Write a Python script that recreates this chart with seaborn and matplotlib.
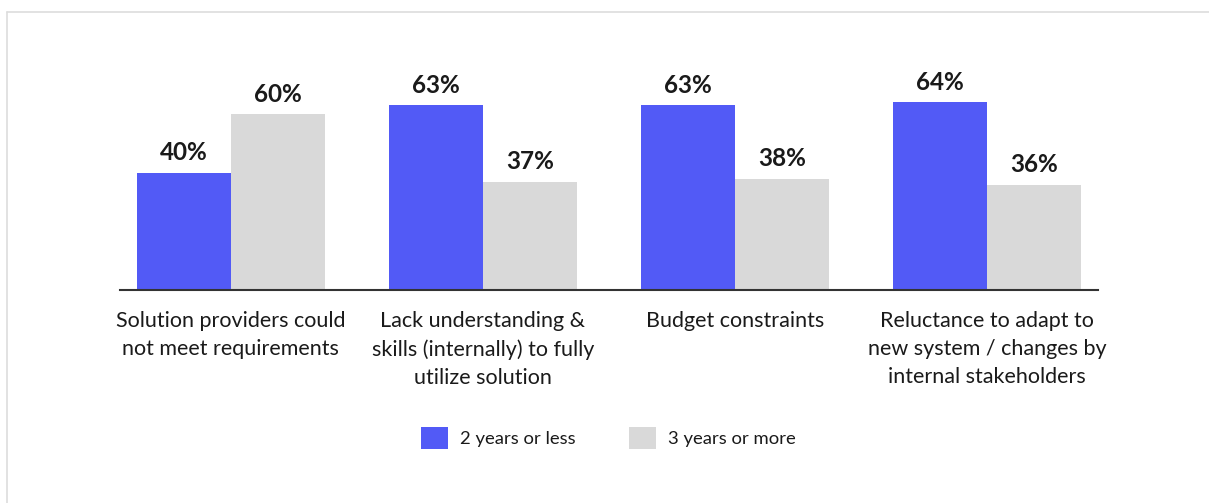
import matplotlib
matplotlib.use("Agg")
import matplotlib.pyplot as plt
from matplotlib.lines import Line2D
from matplotlib.patches import Patch
import pandas as pd
import seaborn as sns

categories = [
    "Solution providers could\nnot meet requirements",
    "Lack understanding &\nskills (internally) to fully\nutilize solution",
    "Budget constraints",
    "Reluctance to adapt to\nnew system / changes by\ninternal stakeholders",
]
series_names = ["2 years or less", "3 years or more"]
values_short = [40, 63, 63, 64]
values_long = [60, 37, 38, 36]
colors = ["#525AF6", "#D9D9D9"]

df = pd.DataFrame({
    "category": categories * 2,
    "group": [series_names[0]] * 4 + [series_names[1]] * 4,
    "value": values_short + values_long,
})

sns.set_theme(style="white")
plt.rcParams["font.family"] = ["Lato", "DejaVu Sans"]

W, H = 1209, 503
fig = plt.figure(figsize=(W / 100, H / 100), dpi=100)
fig.patch.set_facecolor("white")

# axes: baseline at y=290px, x from 120 to 1098 px
ax_left, ax_right = 120 / W, 1098 / W
ax_bottom = (H - 290) / H
ax_top = (H - (290 - 70 * 2.93)) / H
ax = fig.add_axes([ax_left, ax_bottom, ax_right - ax_left, ax_top - ax_bottom])

sns.barplot(
    data=df, x="category", y="value", hue="group",
    palette=colors, width=0.746, saturation=1, ax=ax,
    legend=False, linewidth=0,
)
ax.set_xlim(-0.44, 3.44)
ax.set_ylim(0, 70)

for cont in ax.containers:
    ax.bar_label(cont, fmt="{:.0f}%", padding=6, fontsize=17.5,
                 fontweight="bold", color="#1a1a1a")

ax.set_xlabel("")
ax.set_ylabel("")
ax.set_yticks([])
ax.tick_params(axis="x", length=0, pad=15, labelsize=15.5, colors="#1a1a1a")
for lab in ax.get_xticklabels():
    lab.set_linespacing(1.5)
    lab.set_verticalalignment("top")

for s in ["left", "right", "top"]:
    ax.spines[s].set_visible(False)
ax.spines["bottom"].set_color("#333333")
ax.spines["bottom"].set_linewidth(1.5)

handles = [Patch(facecolor=c, edgecolor="none", label=n) for c, n in zip(colors, series_names)]
fig.legend(
    handles=handles, loc="center", bbox_to_anchor=(608 / W, (H - 438) / H),
    ncol=2, frameon=False, fontsize=13.3, handlelength=1.45, handleheight=1.45,
    handletextpad=0.65, columnspacing=2.9, labelcolor="#1a1a1a",
)

# thin outer frame along the top and left edges
fy = (H - 11.5) / H
fx = 6.5 / W
fig.add_artist(Line2D([fx, fx], [0, fy], transform=fig.transFigure,
                      color="#dddddd", linewidth=1.2))
fig.add_artist(Line2D([fx, 1], [fy, fy], transform=fig.transFigure,
                      color="#dddddd", linewidth=1.2))

fig.savefig("out.png", dpi=100, facecolor="white")
